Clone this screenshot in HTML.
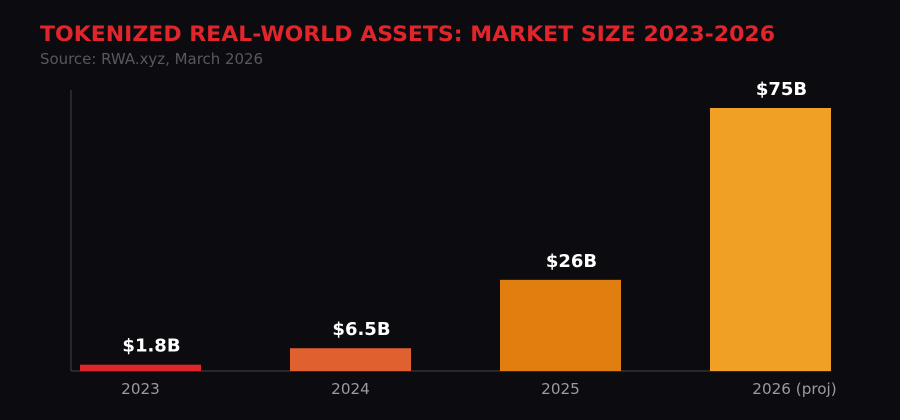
<!DOCTYPE html>
<html><head><meta charset="utf-8"><style>
html,body{margin:0;padding:0;background:#0b0b10;width:900px;height:420px;overflow:hidden}
svg{display:block}
</style></head><body>
<svg width="900" height="420" xmlns="http://www.w3.org/2000/svg" style="font-family:'DejaVu Sans','Liberation Sans',sans-serif">
<rect width="900" height="420" fill="#0b0b10"/>
<text x="40" y="41" fill="#e0262b" font-size="21.5" font-weight="bold" textLength="735" lengthAdjust="spacingAndGlyphs">TOKENIZED REAL-WORLD ASSETS: MARKET SIZE 2023-2026</text>
<text x="40" y="64" fill="#58585e" font-size="14.8" textLength="223" lengthAdjust="spacingAndGlyphs">Source: RWA.xyz, March 2026</text>
<line x1="71" y1="90" x2="71" y2="371" stroke="#444" stroke-width="1"/>
<line x1="71" y1="371" x2="831" y2="371" stroke="#444" stroke-width="1"/>
<g id="bars"></g>
</svg>
<script>
const categories = ["2023", "2024", "2025", "2026 (proj)"];
const values = [1.8, 6.5, 26, 75];
const valueLabels = ["$1.8B", "$6.5B", "$26B", "$75B"];
const colors = ["#e0262b", "#e06030", "#e07f10", "#f0a024"];
const NS = "http://www.w3.org/2000/svg";
const baseY = 371, topY = 108, maxV = 75;
function yScale(v){ return baseY - v * (baseY - topY) / maxV; }
function xScale(i){ return 80 + i * 210; }
const bw = 121;
const g = document.getElementById("bars");
categories.forEach((c, i) => {
  const x = xScale(i), y = yScale(values[i]);
  const r = document.createElementNS(NS, "rect");
  r.setAttribute("x", x); r.setAttribute("y", y);
  r.setAttribute("width", bw); r.setAttribute("height", baseY - y);
  r.setAttribute("fill", colors[i]);
  
  
  g.appendChild(r);
  const t = document.createElementNS(NS, "text");
  t.setAttribute("x", x + bw/2 + 11); t.setAttribute("y", y - 13);
  t.setAttribute("text-anchor", "middle"); t.setAttribute("fill", "#ffffff");
  t.setAttribute("font-size", "18"); t.setAttribute("font-weight", "bold");
  t.textContent = valueLabels[i];
  
  
  g.appendChild(t);
  const l = document.createElementNS(NS, "text");
  const off = i === categories.length - 1 ? 24 : 0;
  l.setAttribute("x", x + bw/2 + off); l.setAttribute("y", 394);
  l.setAttribute("text-anchor", "middle"); l.setAttribute("fill", "#9a9aa0");
  l.setAttribute("font-size", "15.2");
  l.textContent = c;
  
  
  g.appendChild(l);
});
</script>
</body></html>
